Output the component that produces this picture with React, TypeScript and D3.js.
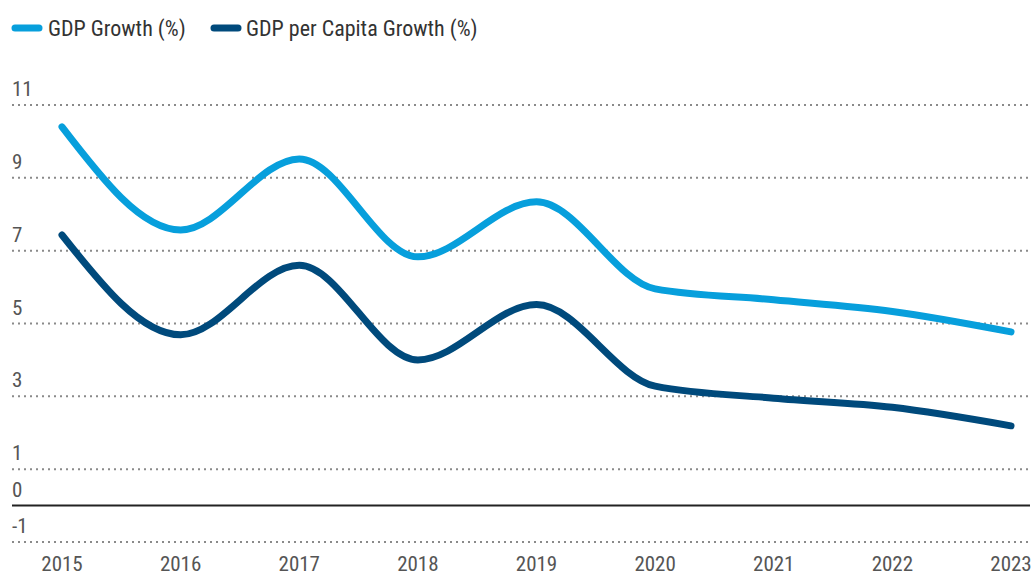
import React from "react";
import * as d3 from "d3";

const years = [2015, 2016, 2017, 2018, 2019, 2020, 2021, 2022, 2023];
const gdpGrowth = [10.4, 7.57, 9.52, 6.83, 8.34, 5.95, 5.65, 5.33, 4.77];
const gdpPerCapitaGrowth = [7.43, 4.69, 6.6, 4.0, 5.52, 3.28, 2.95, 2.7, 2.19];
const yTicks = [-1, 1, 3, 5, 7, 9, 11];

const seriesNames = ["GDP Growth (%)", "GDP per Capita Growth (%)"];
const seriesColors = ["#079fdc", "#004a7c"];

const W = 1034;
const H = 575;
const FONT = "'Liberation Sans Narrow', 'Roboto Condensed', 'Arial Narrow', 'Liberation Sans', sans-serif";

export default function App() {
  const x = d3.scalePoint<number>().domain(years).range([62, 1011]);
  const y = d3.scaleLinear().domain([-1, 11]).range([542, 105]);
  const gridLeft = 12;
  const gridRight = 1030;

  const line = d3
    .line<number>()
    .x((_, i) => x(years[i]) as number)
    .y((d) => y(d))
    .curve(d3.curveMonotoneX);

  const series = [gdpGrowth, gdpPerCapitaGrowth];

  return (
    <svg
      width={W}
      height={H}
      style={{ position: "absolute", left: 0, top: 0, background: "#fff" }}
      fontFamily={FONT}
    >
      {/* legend */}
      <g>
        <line x1={15} x2={39} y1={28} y2={28} stroke={seriesColors[0]} strokeWidth={7} strokeLinecap="round" />
        <text x={48} y={36} fontSize={22} fill="#333">{seriesNames[0]}</text>
        <line x1={214} x2={238} y1={28} y2={28} stroke={seriesColors[1]} strokeWidth={7} strokeLinecap="round" />
        <text x={246} y={36} fontSize={22} fill="#333">{seriesNames[1]}</text>
      </g>

      {/* horizontal grid + y labels */}
      {yTicks.map((t) => (
        <g key={t}>
          <line
            x1={gridLeft}
            x2={gridRight}
            y1={y(t)}
            y2={y(t)}
            stroke="#8a8a8a"
            strokeWidth={2}
            strokeDasharray="2 4"
          />
          <text x={12} y={y(t) - 9} fontSize={21} fill="#555">{t}</text>
        </g>
      ))}
      <text x={12} y={y(0) - 9} fontSize={21} fill="#555">0</text>
      <line x1={gridLeft} x2={gridRight} y1={y(0)} y2={y(0)} stroke="#222" strokeWidth={2} />

      {/* series lines */}
      {series.map((s, i) => (
        <path
          key={i}
          d={line(s) || ""}
          fill="none"
          stroke={seriesColors[i]}
          strokeWidth={7}
          strokeLinecap="round"
          strokeLinejoin="round"
        />
      ))}

      {/* x labels */}
      {years.map((yr) => (
        <text key={yr} x={x(yr)} y={571} fontSize={21} fill="#555" textAnchor="middle">
          {yr}
        </text>
      ))}
    </svg>
  );
}
